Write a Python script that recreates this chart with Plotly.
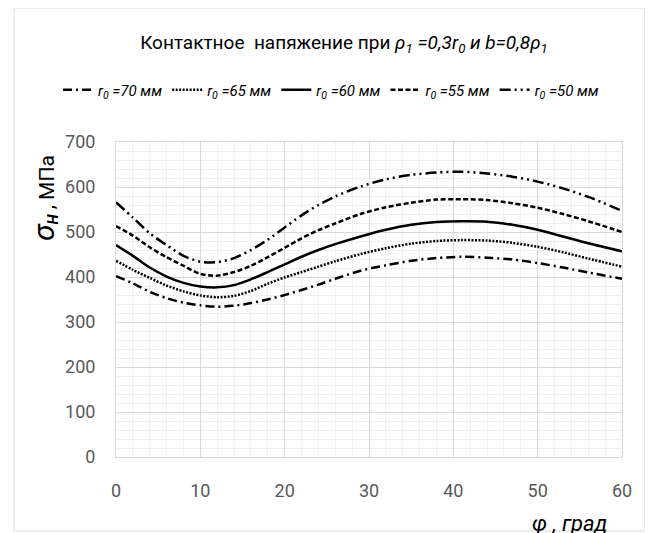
import plotly.graph_objects as go

phi = [0, 2, 4, 6, 8, 10, 12, 14, 16, 18, 20, 22, 24, 26, 29, 32, 35, 38, 41, 44, 47, 50, 53, 56, 60]
r70 = [402, 386, 367, 353, 343, 337, 334, 336, 342, 350, 360, 371, 383, 396, 414, 426, 436, 442, 445, 443, 439, 431, 421, 410, 396]
r65 = [436, 416, 398, 381, 368, 359, 355, 358, 369, 385, 399, 411, 423, 435, 451, 464, 474, 480, 482, 481, 476, 467, 455, 441, 423]
r60 = [471, 447, 421, 401, 387, 379, 377, 382, 395, 411, 428, 445, 460, 473, 490, 505, 516, 522, 524, 523, 516, 505, 490, 475, 457]
r55 = [513, 492, 466, 444, 425, 407, 403, 411, 425, 444, 465, 486, 504, 519, 540, 555, 565, 572, 573, 571, 564, 554, 540, 524, 500]
r50 = [566, 532, 497, 471, 447, 434, 433, 442, 460, 483, 510, 537, 560, 579, 601, 617, 627, 632, 634, 630, 623, 612, 597, 578, 547]

names = ["<i>r<sub>0</sub> =70 мм</i>", "<i>r<sub>0</sub> =65 мм</i>", "<i>r<sub>0</sub> =60 мм</i>",
         "<i>r<sub>0</sub> =55 мм</i>", "<i>r<sub>0</sub> =50 мм</i>"]
series = [r70, r65, r60, r55, r50]
dashes = ["9px,4px,2px,4px", "2px,1.5px", "solid", "5px,2.5px", "11px,4px,2px,4px,2px,4px"]

FONT = "Roboto, Liberation Sans, sans-serif"

# page body has an 8px margin: figure coordinates are page coordinates minus 8
W, H = 645, 525
L, R, T, B = 108, 31, 134, 76
PW, PH = W - L - R, H - T - B


def px(x):
    return (x - 8 - L) / PW


def py(y):
    return (H - B - (y - 8)) / PH


fig = go.Figure()
for n, s, d in zip(names, series, dashes):
    fig.add_trace(go.Scatter(
        x=phi, y=s, mode="lines", name=n,
        line=dict(color="black", width=2.5, dash=d, shape="spline", smoothing=0.8),
    ))

fig.update_layout(
    width=W, height=H,
    margin=dict(l=L, r=R, t=T, b=B),
    paper_bgcolor="white", plot_bgcolor="white",
    font=dict(family=FONT, color="black"),
    title=dict(
        text="Контактное  напяжение при <i>ρ<sub>1</sub> =0,3r<sub>0</sub> и b=0,8ρ<sub>1</sub></i>",
        x=(344 - 8) / W, xanchor="center", y=1 - 34 / H, yanchor="middle",
        font=dict(family=FONT, size=19, color="black"),
    ),
    legend=dict(
        orientation="h", xref="paper", yref="paper",
        x=px(58), xanchor="left", y=py(90), yanchor="middle",
        font=dict(family=FONT, size=15, color="black"),
        itemwidth=30, tracegroupgap=0, bgcolor="rgba(0,0,0,0)",
    ),
    showlegend=True,
    xaxis=dict(
        range=[0, 60], dtick=10, tick0=0,
        showgrid=True, gridcolor="#d9d9d9", gridwidth=1,
        minor=dict(dtick=2, showgrid=True, gridcolor="#f0f0f0", gridwidth=1),
        showline=True, linecolor="#d9d9d9", linewidth=1, mirror=True,
        zeroline=False, ticks="",
        tickfont=dict(family=FONT, size=18, color="#595959"),
        ticklabelstandoff=17,
    ),
    yaxis=dict(
        range=[0, 700], dtick=100, tick0=0,
        showgrid=True, gridcolor="#d9d9d9", gridwidth=1,
        minor=dict(dtick=20, showgrid=True, gridcolor="#f0f0f0", gridwidth=1),
        showline=True, linecolor="#d9d9d9", linewidth=1, mirror=True,
        zeroline=False, ticks="",
        tickfont=dict(family=FONT, size=18, color="#595959"),
        ticklabelstandoff=16,
    ),
)

# y-axis title
fig.add_annotation(
    text="<i><span style='font-size:30px'>σ</span><sub><b>H</b></sub></i> , МПа",
    xref="paper", yref="paper", x=px(44), y=py(198),
    textangle=-90, showarrow=False, xanchor="center", yanchor="middle",
    font=dict(family=FONT, size=21, color="black"),
)
# x-axis title
fig.add_annotation(
    text="<i>φ , град</i>",
    xref="paper", yref="paper", x=px(610), y=py(523),
    showarrow=False, xanchor="right", yanchor="middle",
    font=dict(family=FONT, size=22, color="black"),
)
# outer chart frame
fig.add_shape(
    type="rect", xref="paper", yref="paper",
    x0=px(14), x1=px(645), y0=py(531), y1=py(8),
    line=dict(color="#d9d9d9", width=1), fillcolor="rgba(0,0,0,0)", layer="below",
)

fig.write_html("out.html")
